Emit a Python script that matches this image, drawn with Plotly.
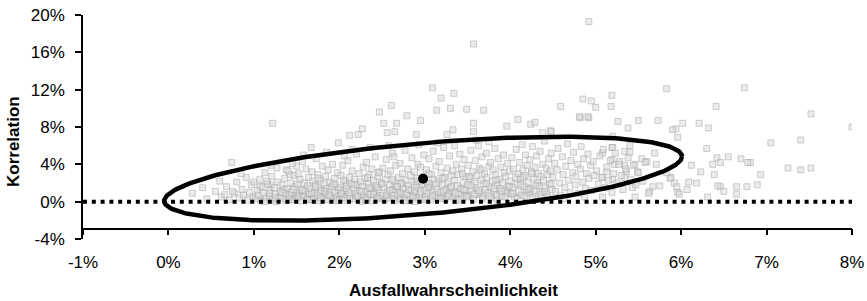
import numpy as np
import plotly.graph_objects as go

# ---- data (values in percent) ----
x_tick_vals = [-1, 0, 1, 2, 3, 4, 5, 6, 7, 8]
x_tick_text = ["-1%", "0%", "1%", "2%", "3%", "4%", "5%", "6%", "7%", "8%"]
y_tick_vals = [-4, 0, 4, 8, 12, 16, 20]
y_tick_text = ["-4%", "0%", "4%", "8%", "12%", "16%", "20%"]

outliers = [
    [4.92, 19.3], [3.57, 16.9], [3.09, 12.2], [3.19, 11.1], [3.34, 11.6], [2.47, 9.6],
    [2.61, 10.3], [2.79, 9.2], [2.95, 8.7], [3.14, 9.8], [3.30, 10.0], [3.49, 9.9],
    [3.69, 9.8], [2.52, 8.4], [2.67, 8.4], [2.27, 7.8], [2.22, 7.2], [2.12, 7.1],
    [2.56, 7.4], [2.65, 7.5], [2.90, 7.2], [3.57, 8.4], [3.57, 7.5], [3.33, 7.7],
    [3.26, 7.2], [3.96, 8.1], [4.09, 8.8], [4.24, 8.3], [4.29, 8.5], [4.59, 10.2],
    [4.85, 11.0], [4.95, 10.8], [5.00, 10.1], [4.82, 9.0], [4.92, 9.0], [4.38, 7.4],
    [4.47, 7.6], [1.99, 6.3], [1.67, 5.8], [1.22, 8.4], [0.74, 4.2], [0.28, 0.9],
    [5.19, 11.4], [5.18, 10.2], [5.83, 12.1], [6.74, 12.2], [6.41, 10.2], [7.52, 9.4],
    [8.00, 8.0], [5.26, 8.6], [5.50, 8.7], [5.73, 8.7], [5.38, 7.9], [6.02, 8.4],
    [5.94, 7.8], [5.90, 7.7], [6.21, 8.4], [6.32, 7.9], [5.96, 6.9], [7.05, 6.3],
    [7.40, 6.6], [5.20, 7.0], [5.40, 6.0], [5.19, 5.8], [6.30, 5.7], [6.55, 4.8],
    [6.70, 4.6], [6.81, 4.2], [6.42, 4.7], [6.37, 4.0], [6.12, 3.9], [6.23, 3.2],
    [6.39, 2.9], [6.93, 2.9], [7.25, 3.6], [7.40, 3.4], [7.52, 3.6], [6.09, 2.1],
    [6.18, 2.0], [6.46, 1.6], [6.65, 1.6], [6.89, 1.8], [6.50, 1.1], [6.07, 1.3],
    [5.96, 1.0], [6.31, 0.5], [6.65, 0.8], [5.88, 2.6], [5.92, 2.0], [6.46, 4.2],
    [6.78, 4.2], [6.43, 1.7], [6.77, 1.6], [4.81, 9.1], [4.91, 9.1], [4.48, 7.5],
]

cloud_right = [
    [5.20, 5.8], [5.34, 5.4], [5.40, 5.3], [5.08, 5.2], [5.19, 4.5], [5.28, 4.3],
    [5.22, 4.0], [5.34, 3.9], [5.46, 4.0], [5.54, 4.6], [5.60, 4.3], [5.69, 5.2],
    [5.71, 4.0], [5.49, 3.2], [5.36, 3.2], [5.13, 3.2], [5.08, 2.6], [5.34, 2.6],
    [5.20, 2.4], [5.83, 3.1], [5.87, 2.5], [5.67, 1.6], [5.75, 1.7], [5.43, 1.5],
    [5.95, 1.6], [5.98, 0.8], [5.63, 1.1], [5.46, 0.5], [5.08, 0.5],
    [5.01, 3.3], [5.03, 1.9], [5.05, 4.9], [5.07, 2.6], [5.09, 5.6], [5.11, 1.5],
    [5.13, 3.7], [5.15, 2.3], [5.17, 4.4], [5.19, 1.0], [5.21, 3.0], [5.23, 5.2],
    [5.25, 2.0], [5.27, 4.0], [5.30, 2.8], [5.32, 1.3], [5.35, 3.5], [5.38, 4.7],
    [5.41, 2.4], [5.44, 3.9], [5.47, 1.8], [5.50, 3.1], [5.55, 2.2], [5.58, 4.2],
    [5.62, 0.9],
]

cloud_left = [
    [0.45, 0.3], [0.55, 1.1], [0.62, 0.5], [0.68, 1.6], [0.71, 0.2], [0.77, 0.9],
    [0.80, 2.1], [0.83, 0.4], [0.86, 1.3], [0.88, 0.7], [0.91, 2.6], [0.93, 0.2],
    [0.95, 1.0], [0.97, 1.8], [0.99, 0.5], [0.60, 2.2], [0.85, 3.0], [0.40, 1.5],
    [0.75, 1.1], [0.66, 0.75], [1.07, 1.6], [1.00, 2.1], [1.20, 1.8], [1.38, 3.4],
    [1.50, 3.8], [1.42, 2.9],
    [1.02, 0.3], [1.04, 1.2], [1.05, 0.7], [1.07, 2.4], [1.08, 0.1], [1.10, 1.6],
    [1.11, 0.9], [1.13, 3.1], [1.14, 0.4], [1.16, 1.9], [1.18, 0.6], [1.19, 1.2],
    [1.21, 2.7], [1.22, 0.2], [1.24, 1.5], [1.25, 0.8], [1.27, 3.6], [1.28, 2.1],
    [1.30, 0.5], [1.31, 1.1], [1.33, 1.8], [1.34, 0.3], [1.36, 2.5], [1.37, 0.9],
    [1.39, 1.4], [1.40, 3.3], [1.42, 0.6], [1.43, 2.0], [1.44, 1.0], [1.46, 0.2],
    [1.47, 2.8], [1.48, 1.6], [1.49, 0.7], [1.12, 0.0], [1.26, 0.0], [1.38, 0.1],
    [1.45, 4.1], [1.20, 3.9], [1.35, 1.3], [1.15, 2.2],
    [1.50, 0.4], [1.51, 1.9], [1.52, 3.0], [1.53, 0.9], [1.54, 2.4], [1.55, 0.1],
    [1.56, 1.3], [1.57, 4.3], [1.58, 0.6], [1.59, 2.0], [1.60, 1.1], [1.61, 3.5],
    [1.62, 0.3], [1.63, 1.7], [1.64, 2.6], [1.65, 0.8], [1.66, 1.4], [1.67, 0.2],
    [1.68, 3.2], [1.69, 2.2], [1.70, 0.5], [1.71, 1.0], [1.72, 1.8], [1.73, 4.6],
    [1.74, 0.7], [1.75, 2.9], [1.76, 1.5], [1.77, 0.1], [1.78, 2.3], [1.79, 1.2],
    [1.80, 3.8], [1.81, 0.4], [1.82, 1.9], [1.83, 0.9], [1.84, 2.7], [1.85, 1.4],
    [1.86, 0.2], [1.87, 3.4], [1.88, 1.1], [1.89, 2.1], [1.90, 0.6], [1.91, 1.6],
    [1.92, 4.0], [1.93, 0.3], [1.94, 2.5], [1.95, 1.0], [1.96, 1.8], [1.97, 0.5],
    [1.98, 3.1], [1.99, 1.3], [1.58, 5.0], [1.85, 5.3],
]

cloud_mid = [
    [2.00, 0.2], [2.01, 1.5], [2.02, 2.8], [2.03, 0.8], [2.04, 3.9], [2.05, 1.2],
    [2.06, 0.4], [2.07, 2.2], [2.08, 1.7], [2.09, 0.1], [2.10, 4.4], [2.11, 1.0],
    [2.12, 2.6], [2.13, 0.6], [2.14, 1.9], [2.15, 3.3], [2.16, 0.3], [2.17, 1.4],
    [2.18, 2.4], [2.19, 0.9], [2.20, 5.1], [2.21, 1.8], [2.22, 0.5], [2.23, 3.0],
    [2.24, 1.2], [2.25, 2.1], [2.26, 0.2], [2.27, 1.6], [2.28, 3.7], [2.29, 0.7],
    [2.30, 2.5], [2.31, 1.1], [2.32, 4.2], [2.33, 0.4], [2.34, 1.9], [2.35, 2.9],
    [2.36, 0.8], [2.37, 1.4], [2.38, 3.5], [2.39, 0.1], [2.40, 2.3], [2.41, 1.0],
    [2.42, 4.8], [2.43, 1.7], [2.44, 0.5], [2.45, 2.7], [2.46, 1.3], [2.47, 3.2],
    [2.48, 0.3], [2.49, 2.0], [2.15, 5.6], [2.36, 5.8], [2.06, 4.9], [2.27, 0.0],
    [2.44, 1.5],
    [2.50, 0.6], [2.51, 3.6], [2.52, 1.5], [2.53, 0.2], [2.54, 2.4], [2.55, 4.5],
    [2.56, 1.0], [2.57, 2.9], [2.58, 0.4], [2.59, 1.8], [2.60, 3.3], [2.61, 0.8],
    [2.62, 5.2], [2.63, 1.3], [2.64, 2.2], [2.65, 0.1], [2.66, 3.9], [2.67, 1.6],
    [2.68, 0.7], [2.69, 2.6], [2.70, 1.1], [2.71, 4.1], [2.72, 0.3], [2.73, 2.0],
    [2.74, 3.0], [2.75, 1.4], [2.76, 0.5], [2.77, 5.5], [2.78, 2.3], [2.79, 0.9],
    [2.80, 3.5], [2.81, 1.7], [2.82, 0.2], [2.83, 2.8], [2.84, 1.2], [2.85, 4.7],
    [2.86, 0.6], [2.87, 2.1], [2.88, 3.2], [2.89, 1.0], [2.90, 0.4], [2.91, 2.5],
    [2.92, 4.0], [2.93, 1.5], [2.94, 0.8], [2.95, 3.7], [2.96, 1.9], [2.97, 0.3],
    [2.98, 2.7], [2.99, 5.0], [2.58, 6.0], [2.72, 1.9], [2.88, 0.0], [2.64, 4.8],
    [2.93, 6.1],
    [3.00, 1.2], [3.01, 0.5], [3.02, 3.4], [3.03, 2.0], [3.04, 0.9], [3.05, 4.6],
    [3.06, 1.6], [3.07, 0.2], [3.08, 2.9], [3.09, 1.1], [3.10, 5.4], [3.11, 2.4],
    [3.12, 0.7], [3.13, 3.8], [3.14, 1.4], [3.15, 0.4], [3.16, 2.2], [3.17, 4.3],
    [3.18, 1.0], [3.19, 3.1], [3.20, 0.6], [3.21, 1.8], [3.22, 5.8], [3.23, 2.6],
    [3.24, 0.3], [3.25, 1.3], [3.26, 3.6], [3.27, 2.0], [3.28, 0.8], [3.29, 4.9],
    [3.30, 1.5], [3.31, 2.8], [3.32, 0.5], [3.33, 3.3], [3.34, 1.1], [3.35, 2.3],
    [3.36, 0.1], [3.37, 4.0], [3.38, 1.7], [3.39, 2.9], [3.40, 0.9], [3.41, 5.1],
    [3.42, 1.4], [3.43, 3.5], [3.44, 0.4], [3.45, 2.1], [3.46, 4.5], [3.47, 1.2],
    [3.48, 2.7], [3.49, 0.7], [3.15, 6.3], [3.35, 6.0], [3.05, 1.9], [3.44, 3.0],
]

cloud_upper = [
    [3.50, 1.8], [3.51, 3.9], [3.52, 0.6], [3.53, 2.5], [3.54, 5.5], [3.55, 1.2],
    [3.56, 3.2], [3.57, 0.3], [3.58, 2.0], [3.59, 4.4], [3.60, 1.5], [3.61, 2.8],
    [3.62, 0.8], [3.63, 6.0], [3.64, 3.6], [3.65, 1.0], [3.66, 2.3], [3.67, 4.8],
    [3.68, 0.5], [3.69, 1.9], [3.70, 3.0], [3.71, 1.3], [3.72, 5.2], [3.73, 2.6],
    [3.74, 0.9], [3.75, 3.8], [3.76, 1.6], [3.77, 4.2], [3.78, 0.4], [3.79, 2.2],
    [3.80, 3.4], [3.81, 1.1], [3.82, 5.7], [3.83, 2.9], [3.84, 0.7], [3.85, 1.8],
    [3.86, 4.6], [3.87, 2.4], [3.88, 1.4], [3.89, 3.7], [3.90, 0.6], [3.91, 2.0],
    [3.92, 5.0], [3.93, 3.1], [3.94, 1.2], [3.95, 2.7], [3.96, 0.9], [3.97, 4.1],
    [3.98, 1.7], [3.99, 3.3], [3.75, 6.4], [3.60, 6.6],
    [4.00, 2.2], [4.01, 0.8], [4.02, 4.7], [4.03, 1.5], [4.04, 3.5], [4.05, 0.5],
    [4.06, 2.6], [4.07, 5.6], [4.08, 1.9], [4.09, 3.0], [4.10, 1.1], [4.11, 4.2],
    [4.12, 2.4], [4.13, 0.7], [4.14, 6.1], [4.15, 3.4], [4.16, 1.6], [4.17, 2.8],
    [4.18, 5.0], [4.19, 1.0], [4.20, 3.9], [4.21, 2.1], [4.22, 0.9], [4.23, 4.5],
    [4.24, 1.4], [4.25, 3.2], [4.26, 5.9], [4.27, 2.5], [4.28, 1.2], [4.29, 3.7],
    [4.30, 0.6], [4.31, 4.9], [4.32, 2.0], [4.33, 3.0], [4.34, 1.7], [4.35, 5.4],
    [4.36, 2.7], [4.37, 1.0], [4.38, 4.0], [4.39, 2.3], [4.40, 6.5], [4.41, 1.5],
    [4.42, 3.6], [4.43, 0.8], [4.44, 2.9], [4.45, 4.6], [4.46, 1.9], [4.47, 3.3],
    [4.48, 5.2], [4.49, 1.3],
    [4.50, 2.6], [4.52, 4.1], [4.53, 1.1], [4.55, 3.4], [4.56, 5.7], [4.58, 2.0],
    [4.59, 0.7], [4.61, 4.8], [4.62, 2.9], [4.64, 1.5], [4.65, 3.8], [4.67, 6.2],
    [4.68, 2.3], [4.70, 1.0], [4.71, 4.4], [4.73, 3.1], [4.74, 5.3], [4.76, 1.8],
    [4.77, 2.7], [4.79, 4.0], [4.80, 0.9], [4.82, 3.5], [4.83, 5.9], [4.85, 2.1],
    [4.86, 4.6], [4.88, 1.4], [4.89, 3.0], [4.91, 5.1], [4.92, 2.5], [4.94, 3.9],
    [4.95, 1.2], [4.97, 4.3], [4.98, 2.8], [4.63, 0.3], [4.87, 0.5],
]

cloud_base = [
    [1.52, 0.5], [1.57, 1.2], [1.63, 0.2], [1.68, 0.9], [1.72, 1.6], [1.78, 0.4],
    [1.83, 1.1], [1.88, 0.7], [1.93, 1.9], [1.97, 0.1], [2.02, 0.9], [2.08, 1.4],
    [2.12, 0.3], [2.17, 1.8], [2.21, 0.6], [2.26, 1.1], [2.31, 0.2], [2.35, 1.5],
    [2.40, 0.8], [2.45, 0.4], [2.50, 1.9], [2.55, 0.7], [2.59, 1.2], [2.63, 0.3],
    [2.68, 1.6], [2.72, 0.9], [2.77, 0.1], [2.81, 1.3], [2.86, 0.5], [2.90, 1.8],
    [2.95, 1.1], [3.00, 0.2], [3.04, 1.5], [3.09, 0.6], [3.13, 1.9], [3.18, 0.3],
    [3.22, 1.1], [3.27, 0.6], [3.31, 1.6], [3.36, 0.9], [3.40, 0.2], [3.45, 1.3],
    [3.49, 0.5], [3.54, 1.7], [3.58, 0.8], [3.63, 1.2], [3.67, 0.3], [3.72, 1.9],
    [3.76, 0.6], [3.81, 1.4], [3.85, 0.2], [3.90, 1.1], [3.94, 0.5], [3.99, 1.6],
    [4.03, 0.9], [4.08, 0.3], [4.12, 1.8], [4.17, 0.6], [4.21, 1.3], [4.26, 0.4],
    [4.30, 1.7], [4.35, 0.8], [4.40, 1.1], [4.44, 0.5], [4.48, 1.9], [1.25, 0.4],
    [1.33, 1.0], [1.41, 0.2], [1.46, 1.3], [1.18, 0.9], [2.05, 2.3], [2.33, 2.6],
    [2.62, 2.4], [2.91, 2.2], [3.21, 2.5], [3.52, 2.7], [3.83, 2.3], [4.15, 2.6],
    [1.75, 2.5], [2.46, 3.1], [3.05, 3.0], [3.66, 3.4], [4.25, 3.0],
]

# mean point and confidence ellipse parameters (percent)
mean_pd = 2.98
mean_corr = 2.46
ellipse_half_pd = 3.03
ellipse_half_corr = 4.5
ellipse_rho = 0.53

zero_line_pd = [-1, 8]
zero_line_corr = [0, 0]

# ---- build ----
all_pts = outliers + cloud_right + cloud_left + cloud_mid + cloud_upper + cloud_base
px_ = [p[0] for p in all_pts]
py_ = [p[1] for p in all_pts]

t = np.linspace(0, 2 * np.pi, 361)
ex = mean_pd + ellipse_half_pd * np.cos(t)
ey = mean_corr + ellipse_half_corr * (ellipse_rho * np.cos(t) - np.sqrt(1 - ellipse_rho ** 2) * np.sin(t))

fig = go.Figure()
fig.add_trace(go.Scatter(
    x=px_, y=py_, mode="markers",
    marker=dict(symbol="square", size=6, color="rgba(215,215,215,0.5)",
                line=dict(color="rgba(165,165,165,0.5)", width=1)),
    showlegend=False, hoverinfo="skip"))
fig.add_trace(go.Scatter(
    x=zero_line_pd, y=zero_line_corr, mode="lines",
    line=dict(color="black", width=4, dash="4px,4.8px"),
    showlegend=False, hoverinfo="skip"))
fig.add_trace(go.Scatter(
    x=ex, y=ey, mode="lines", line=dict(color="black", width=4.5),
    showlegend=False, hoverinfo="skip"))
fig.add_trace(go.Scatter(
    x=[mean_pd], y=[mean_corr], mode="markers",
    marker=dict(color="black", size=10), showlegend=False, hoverinfo="skip"))

font_family = "Liberation Sans, Arial, sans-serif"
fig.update_layout(
    width=867, height=301,
    margin=dict(l=83, r=15, t=15, b=62, autoexpand=False),
    paper_bgcolor="white", plot_bgcolor="white",
    font=dict(family=font_family, size=17, color="black"),
    xaxis=dict(range=[-1, 8], tickvals=x_tick_vals, ticktext=x_tick_text,
               showgrid=False, zeroline=False, showline=True, linecolor="black",
               linewidth=1.5, ticks="outside", ticklen=6, tickwidth=1.5,
               tickcolor="black", anchor="free", position=1.1 / 24,
               automargin=False, ticklabelstandoff=12),
    yaxis=dict(range=[-4, 20], tickvals=y_tick_vals, ticktext=y_tick_text,
               showgrid=False, zeroline=False, showline=True, linecolor="black",
               linewidth=1.5, ticks="outside", ticklen=6, tickwidth=1.5,
               tickcolor="black", automargin=False, ticklabelstandoff=7),
    annotations=[
        dict(text="<b>Korrelation</b>", textangle=-90, xref="paper", yref="paper",
             x=(13 - 83) / 769, y=(239 - 142) / 224, xanchor="center", yanchor="middle",
             showarrow=False, font=dict(size=17, family=font_family)),
        dict(text="<b>Ausfallwahrscheinlichkeit</b>", xref="paper", yref="paper",
             x=(453 - 83) / 769, y=(239 - 290) / 224, xanchor="center", yanchor="middle",
             showarrow=False, font=dict(size=17, family=font_family)),
    ],
)
fig.write_html("out.html", config={"displayModeBar": False},
               post_script="document.body.style.margin='0px';")
